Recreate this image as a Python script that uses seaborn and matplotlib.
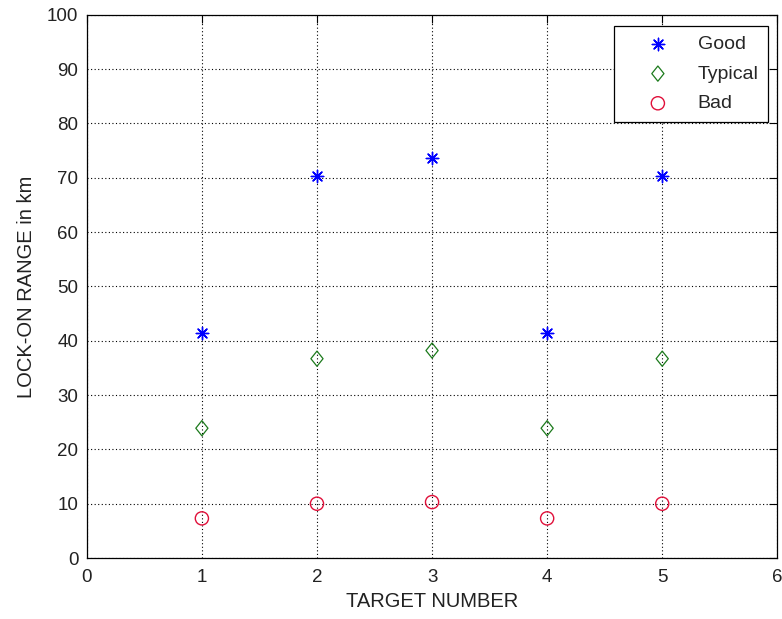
import matplotlib
matplotlib.use("Agg")
import matplotlib.pyplot as plt
from matplotlib.path import Path
import seaborn as sns
import pandas as pd

# Lock-on range per target for three conditions
targets = [1, 2, 3, 4, 5]
good = [41.4, 70.4, 73.7, 41.5, 70.4]
typical = [23.9, 36.7, 38.2, 23.9, 36.7]
bad = [7.3, 10.0, 10.3, 7.3, 10.0]

x_ticks = [0, 1, 2, 3, 4, 5, 6]
y_ticks = [0, 10, 20, 30, 40, 50, 60, 70, 80, 90, 100]

sns.set_theme(style="white")
plt.rcParams["font.family"] = ["Liberation Sans", "DejaVu Sans"]

df = pd.DataFrame({"target": targets, "Good": good, "Typical": typical, "Bad": bad})

# a diamond slightly narrower than it is tall
diamond = Path([(0, 1), (0.8, 0), (0, -1), (-0.8, 0), (0, 1)],
               [Path.MOVETO, Path.LINETO, Path.LINETO, Path.LINETO, Path.CLOSEPOLY])

fig = plt.figure(figsize=(7.82, 6.19), dpi=100)
ax = fig.add_axes([0.111, 0.0985, 0.883, 0.8775])

sns.scatterplot(data=df, x="target", y="Good", ax=ax, marker=(8, 2, 0),
                color="#0000ff", edgecolor="#0000ff", s=80, linewidth=1.0,
                label="Good", zorder=3)
sns.scatterplot(data=df, x="target", y="Typical", ax=ax, marker=diamond,
                facecolor="none", edgecolor="#1c7a1c", s=120, linewidth=0.9,
                label="Typical", zorder=3)
sns.scatterplot(data=df, x="target", y="Bad", ax=ax, marker="o",
                facecolor="none", edgecolor="#e0103a", s=90, linewidth=1.0,
                label="Bad", zorder=3)

ax.set_xlim(0, 6)
ax.set_ylim(0, 100)
ax.set_xticks(x_ticks)
ax.set_yticks(y_ticks)
ax.set_xticklabels([str(v) for v in x_ticks])
ax.set_yticklabels([str(v) for v in y_ticks])

ax.grid(True, color="black", linestyle=(0, (1, 2.2)), linewidth=0.8)
ax.set_axisbelow(True)

for sp in ax.spines.values():
    sp.set_visible(True)
    sp.set_color("black")
    sp.set_linewidth(0.9)

ax.tick_params(direction="in", length=6, width=0.8, colors="black",
               top=True, right=True, labelsize=13.5, labelcolor="#222222")
ax.tick_params(axis="x", pad=8)
ax.tick_params(axis="y", pad=6)

ax.set_xlabel("TARGET NUMBER", fontsize=14.5, color="#222222", labelpad=4)
ax.set_ylabel("LOCK-ON RANGE in km", fontsize=14.5, color="#222222", labelpad=8)

leg = ax.legend(loc="upper right", bbox_to_anchor=(0.987, 0.980), fontsize=14,
                frameon=True, fancybox=False, edgecolor="black",
                borderpad=0.5, handletextpad=0.3, labelspacing=0.62,
                handlelength=3.5, borderaxespad=0.0)
leg.get_frame().set_linewidth(0.9)
leg.get_frame().set_facecolor("white")
leg.get_frame().set_alpha(1)

fig.savefig("out.png", dpi=100, facecolor="white")
